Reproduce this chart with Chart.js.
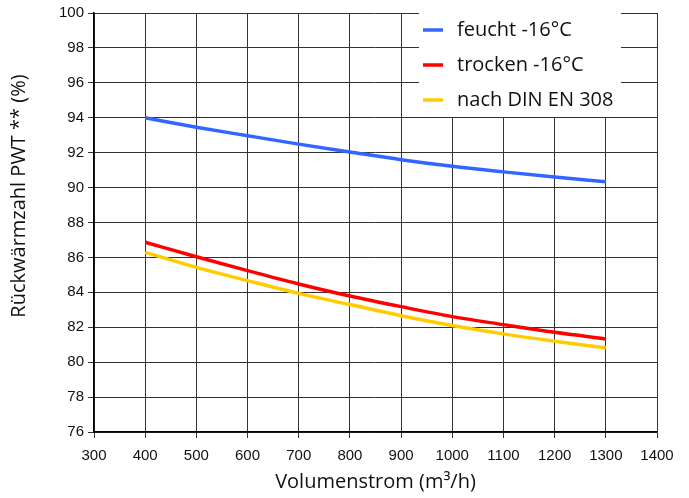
<!DOCTYPE html>
<html>
<head>
<meta charset="utf-8">
<script src="https://cdn.jsdelivr.net/npm/chart.js@4/dist/chart.umd.min.js"></script>
<style>
  html, body { margin: 0; padding: 0; background: #fff; }
  #wrap { width: 689px; height: 498px; }
</style>
</head>
<body>
<div id="wrap"><canvas id="pwt-chart"></canvas></div>
<script>
// Volumenstrom in m³/h
const volumes = [400, 500, 600, 700, 800, 900, 1000, 1100, 1200, 1300];

// Rückwärmzahl in %
const feucht = [94.0, 93.46, 92.97, 92.49, 92.04, 91.6, 91.22, 90.9, 90.6, 90.33];
const trocken = [86.87, 86.04, 85.24, 84.48, 83.79, 83.18, 82.61, 82.15, 81.71, 81.33];
const din308 = [86.29, 85.43, 84.67, 83.94, 83.3, 82.66, 82.1, 81.62, 81.2, 80.82];

const seriesLabels = ['feucht -16°C', 'trocken -16°C', 'nach DIN EN 308'];
const seriesColors = ['#3366ff', '#ff0000', '#ffcc00'];
const yTitle = 'Rückwärmzahl PWT ** (%)';

const textFont = '"Open Sans", "Noto Sans", sans-serif';
const tickFont = '"Liberation Sans", Arial, sans-serif';

function toPoints(values) {
  return volumes.map((v, i) => ({ x: v, y: values[i] }));
}

// legend inside the plot (top right) on a white box, plus the y axis title
const extras = {
  id: 'extras',
  afterDatasetsDraw(chart) {
    const ctx = chart.ctx;
    const left = 419, top = 13, w = 202, rowH = 35;
    ctx.save();
    ctx.fillStyle = '#fff';
    ctx.fillRect(left, top, w, rowH * 3 - 1);
    ctx.font = '20px ' + textFont;
    ctx.textBaseline = 'middle';
    chart.data.datasets.forEach((ds, i) => {
      const y = top + rowH * i + 17;
      ctx.strokeStyle = ds.borderColor;
      ctx.lineWidth = 3.5;
      ctx.beginPath();
      ctx.moveTo(423, y);
      ctx.lineTo(443, y);
      ctx.stroke();
      ctx.fillStyle = '#111';
      ctx.fillText(ds.label, 457, y);
    });

    ctx.translate(19, 196);
    ctx.rotate(-Math.PI / 2);
    ctx.textAlign = 'center';
    ctx.fillText(yTitle, 0, 0);
    ctx.restore();
  }
};

new Chart(document.getElementById('pwt-chart'), {
  type: 'line',
  data: {
    datasets: [feucht, trocken, din308].map((vals, i) => ({
      label: seriesLabels[i],
      data: toPoints(vals),
      borderColor: seriesColors[i],
      backgroundColor: seriesColors[i],
      borderWidth: 3.5,
      pointRadius: 0,
      cubicInterpolationMode: 'monotone',
      fill: false,
      order: -i
    }))
  },
  options: {
    responsive: true,
    maintainAspectRatio: false,
    animation: false,
    layout: { padding: { top: 13, right: 32, left: 0, bottom: 0 } },
    plugins: {
      legend: { display: false },
      tooltip: { enabled: false }
    },
    scales: {
      x: {
        type: 'linear',
        min: 300,
        max: 1400,
        afterFit: s => { s.height = 66; },
        ticks: {
          stepSize: 100, color: '#111', padding: 9, maxRotation: 0,
          font: { family: tickFont, size: 15 },
          callback: v => String(v)
        },
        grid: { color: '#333', lineWidth: 1, tickLength: 6 },
        border: { color: '#000', width: 1.5 },
        title: { display: true, text: 'Volumenstrom (m³/h)', color: '#111', font: { family: textFont, size: 20 }, padding: { top: 0 } }
      },
      y: {
        min: 76,
        max: 100,
        afterFit: s => { s.width = 94; },
        ticks: {
          stepSize: 2, color: '#111', padding: 4,
          font: { family: tickFont, size: 15 },
          callback: v => String(v)
        },
        grid: { color: '#333', lineWidth: 1, tickLength: 6 },
        border: { color: '#000', width: 1.5 }
      }
    }
  },
  plugins: [extras]
});
</script>
</body>
</html>
